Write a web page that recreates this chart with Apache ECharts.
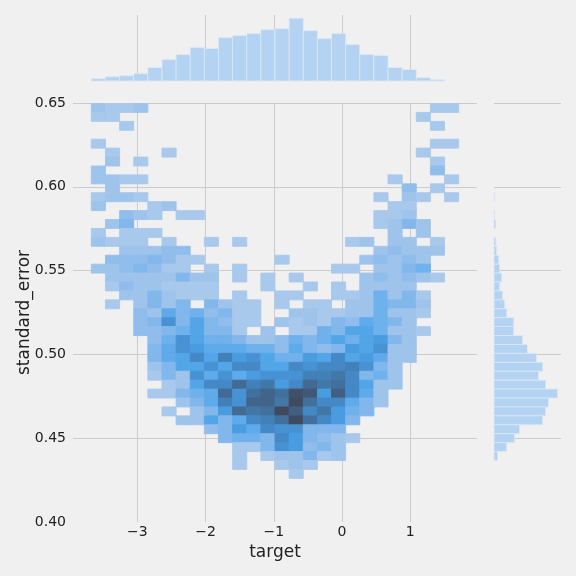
<!DOCTYPE html>
<html>
<head>
<meta charset="utf-8">
<script src="https://cdn.jsdelivr.net/npm/echarts/dist/echarts.min.js"></script>
<style>
    html, body { margin: 0; padding: 0; background: #f0f0f0; }
    #main { width: 576px; height: 576px; }
</style>
</head>
<body>
<div id="main"></div>
<script>
// target bins (x): 26 bins from the data min
var targetMin = -3.676;
var targetBinWidth = 0.2072;
// standard_error bins (y): counted downward from the data max
var seMax = 0.6497;
var seBinHeight = 0.005325;

// top marginal: count per target bin
var targetCounts = [9, 17, 21, 29, 54, 86, 106, 134, 130, 174, 182, 190, 206,
    210, 252, 202, 170, 190, 146, 106, 102, 54, 46, 13, 5, 0];

// right marginal: count per standard_error bin, top bin first
var seCounts = [0, 0, 0, 0, 0, 0, 0, 0, 0, 0, 3, 0, 3, 8, 0, 8, 12, 21, 25, 34,
    25, 39, 48, 57, 88, 88, 128, 150, 191, 218, 200, 231, 285, 244, 231, 218,
    115, 92, 57, 16, 0, 0];

// joint histogram: one row per standard_error bin (top first), one value per target bin
var jointCounts = [
    [2,1,1,2,0,0,0,0,0,0,0,0,0,0,0,0,0,0,0,0,0,0,0,0,1,1],
    [1,1,0,0,0,0,0,0,0,0,0,0,0,0,0,0,0,0,0,0,0,0,0,1,0,0],
    [0,0,1,0,0,0,0,0,0,0,0,0,0,0,0,0,0,0,0,0,0,0,0,0,1,0],
    [0,0,0,0,0,0,0,0,0,0,0,0,0,0,0,0,0,0,0,0,0,0,0,0,0,0],
    [1,0,0,0,0,0,0,0,0,0,0,0,0,0,0,0,0,0,0,0,0,0,0,0,1,1],
    [0,1,0,0,0,1,0,0,0,0,0,0,0,0,0,0,0,0,0,0,0,0,0,1,0,0],
    [0,2,0,1,0,0,0,0,0,0,0,0,0,0,0,0,0,0,0,0,0,0,0,0,1,0],
    [2,0,0,0,0,0,0,0,0,0,0,0,0,0,0,0,0,0,0,0,0,0,0,0,3,0],
    [2,2,1,1,0,0,0,0,0,0,0,0,0,0,0,0,0,0,0,0,0,1,0,0,0,1],
    [0,2,0,0,0,0,0,0,0,0,0,0,0,0,0,0,0,0,0,0,0,0,3,0,1,0],
    [1,2,2,1,0,0,0,0,0,0,0,0,0,0,0,0,0,0,0,0,1,0,2,1,0,1],
    [2,0,0,0,1,2,0,0,0,0,0,0,0,0,0,0,0,0,0,0,0,1,1,0,0,0],
    [0,0,3,2,1,0,1,1,0,0,0,0,0,0,0,0,0,0,0,0,1,1,2,0,0,0],
    [0,2,4,0,0,0,0,0,0,0,0,0,0,0,0,0,0,0,0,0,1,2,4,2,0,0],
    [1,0,1,1,1,0,0,0,0,0,0,0,0,0,0,0,0,0,0,0,0,2,0,2,0,0],
    [2,1,1,1,0,1,0,0,1,0,1,0,0,0,0,0,0,0,1,2,0,2,2,0,1,0],
    [0,0,2,2,2,3,3,0,0,0,0,0,0,0,0,0,0,0,0,0,2,3,2,2,2,0],
    [0,3,3,3,4,3,1,1,0,0,0,0,0,1,0,0,0,0,0,2,3,2,3,2,0,0],
    [2,2,3,4,3,1,1,0,1,0,1,0,0,0,0,0,0,1,1,0,2,2,4,5,0,0],
    [0,2,2,2,2,2,4,2,2,0,1,0,1,0,1,0,0,0,0,2,3,2,3,2,1,0],
    [0,1,3,2,2,1,1,1,1,0,0,0,1,0,0,1,0,1,0,2,2,2,2,0,0,0],
    [0,0,2,2,4,2,1,1,1,0,1,0,0,1,1,0,0,1,1,2,5,2,4,1,0,0],
    [0,1,0,2,4,2,4,0,4,2,1,1,0,1,0,1,1,0,2,2,5,4,4,2,0,0],
    [0,0,0,3,2,6,4,5,3,4,1,1,0,0,2,2,1,1,2,2,5,2,2,1,0,0],
    [0,0,0,3,4,9,4,7,4,3,1,1,0,2,1,2,1,4,3,6,5,4,2,0,0,0],
    [0,0,0,3,3,4,5,7,4,4,1,0,2,0,1,1,5,4,7,7,5,2,2,1,0,0],
    [0,0,0,0,3,5,9,7,5,5,4,2,2,3,5,4,5,7,5,7,8,4,2,0,0,0],
    [0,0,0,0,4,6,9,8,6,6,6,5,5,3,6,4,3,4,8,7,9,2,2,0,0,0],
    [0,0,0,0,4,6,7,10,7,11,8,9,7,5,5,8,7,10,7,8,6,2,2,0,0,0],
    [0,0,0,0,2,4,7,7,9,7,10,10,7,7,10,9,10,10,11,9,4,2,0,0,0,0],
    [0,0,0,0,1,4,2,9,6,9,6,8,9,9,9,11,11,12,10,4,5,2,0,0,0,0],
    [0,0,0,0,0,1,2,7,10,10,14,11,12,8,10,14,12,13,10,7,2,2,0,0,0,0],
    [0,0,0,0,1,1,4,5,6,14,9,13,15,13,18,17,8,16,10,6,2,0,0,0,0,0],
    [0,0,0,0,0,0,2,4,6,11,9,15,15,12,19,13,10,10,6,4,2,0,0,0,0,0],
    [0,0,0,0,0,1,0,2,4,8,14,12,13,19,16,10,12,8,5,4,0,0,0,0,0,0],
    [0,0,0,0,0,0,2,2,7,4,6,10,11,13,19,13,10,8,4,0,0,0,0,0,0,0],
    [0,0,0,0,0,0,0,0,3,4,8,6,10,9,9,4,4,4,0,0,0,0,0,0,0,0],
    [0,0,0,0,0,0,0,0,0,4,5,5,4,10,8,4,3,2,1,0,0,0,0,0,0,0],
    [0,0,0,0,0,0,0,0,0,0,1,1,4,9,8,3,4,2,0,0,0,0,0,0,0,0],
    [0,0,0,0,0,0,0,0,0,0,1,0,1,2,2,4,1,2,0,0,0,0,0,0,0,0],
    [0,0,0,0,0,0,0,0,0,0,1,0,0,1,2,1,0,0,0,0,0,0,0,0,0,0],
    [0,0,0,0,0,0,0,0,0,0,0,0,0,0,1,0,0,0,0,0,0,0,0,0,0,0]
];

// light-to-dark ramp of the joint histogram
var rampColors = ['#a8c8ec', '#9fc4ec', '#90bdec', '#82b7ec', '#6eb1ec', '#5eaaea',
    '#52a6e8', '#4a9ce0', '#4692d2', '#4488c6', '#4280b8', '#4278a8', '#42709c',
    '#426a92', '#42648a', '#425e80', '#425776', '#424f68', '#404a5e'];

var jointData = [];
jointCounts.forEach(function (row, r) {
    row.forEach(function (count, c) {
        if (!count) return;
        var x0 = targetMin + c * targetBinWidth;
        var y1 = seMax - r * seBinHeight;
        jointData.push([x0, x0 + targetBinWidth, y1 - seBinHeight, y1, count]);
    });
});

var topData = [];
targetCounts.forEach(function (count, c) {
    if (!count) return;
    var x0 = targetMin + c * targetBinWidth;
    topData.push([x0, x0 + targetBinWidth, count]);
});

var rightData = [];
seCounts.forEach(function (count, r) {
    if (!count) return;
    var y1 = seMax - r * seBinHeight;
    rightData.push([y1 - seBinHeight, y1, count]);
});

var font = 'DejaVu Sans';
var gridColor = '#cbcbcb';
var barFill = '#b4d2f2';
var barEdge = '#dce8f5';

function renderCell(params, api) {
    var p0 = api.coord([api.value(0), api.value(3)]);
    var p1 = api.coord([api.value(1), api.value(2)]);
    var color = api.visual('color');
    return {
        type: 'rect',
        shape: {x: p0[0], y: p0[1], width: p1[0] - p0[0], height: p1[1] - p0[1]},
        style: {fill: color, stroke: color, lineWidth: 0.9}
    };
}

function renderTopBar(params, api) {
    var p0 = api.coord([api.value(0), api.value(2)]);
    var p1 = api.coord([api.value(1), 0]);
    return {
        type: 'rect',
        shape: {x: p0[0], y: p0[1], width: p1[0] - p0[0], height: p1[1] - p0[1]},
        style: {fill: barFill, stroke: barEdge, lineWidth: 0.8}
    };
}

function renderRightBar(params, api) {
    var p0 = api.coord([0, api.value(1)]);
    var p1 = api.coord([api.value(2), api.value(0)]);
    return {
        type: 'rect',
        shape: {x: p0[0], y: p0[1], width: p1[0] - p0[0], height: p1[1] - p0[1]},
        style: {fill: barFill, stroke: barEdge, lineWidth: 0.8}
    };
}

var chart = echarts.init(document.getElementById('main'));

chart.setOption({
    animation: false,
    backgroundColor: '#f0f0f0',
    grid: [
        {left: 73, top: 103, width: 404, height: 419},
        {left: 73, top: 15, width: 404, height: 66},
        {left: 494, top: 103, width: 67, height: 419}
    ],
    xAxis: [
        {
            gridIndex: 0,
            type: 'value',
            min: -3.945,
            max: 1.98,
            name: 'target',
            nameLocation: 'middle',
            nameGap: 22,
            nameMoveOverlap: false,
            nameTextStyle: {color: '#222', fontSize: 17, fontFamily: font},
            axisLine: {show: false},
            axisTick: {show: false},
            axisLabel: {
                color: '#222',
                fontSize: 14,
                fontFamily: font,
                margin: 3,
                showMinLabel: false,
                showMaxLabel: false,
                formatter: function (v) { return String(v).replace('-', '\u2212'); }
            },
            splitLine: {show: true, showMinLine: false, showMaxLine: false,
                lineStyle: {color: gridColor, width: 1}}
        },
        {
            gridIndex: 1,
            type: 'value',
            min: -3.945,
            max: 1.98,
            axisLine: {show: false},
            axisTick: {show: false},
            axisLabel: {show: false},
            splitLine: {show: true, showMinLine: false, showMaxLine: false,
                lineStyle: {color: gridColor, width: 1}}
        },
        {
            gridIndex: 2,
            type: 'value',
            min: 0,
            max: 300,
            axisLine: {show: false},
            axisTick: {show: false},
            axisLabel: {show: false},
            splitLine: {show: false}
        }
    ],
    yAxis: [
        {
            gridIndex: 0,
            type: 'value',
            min: 0.40,
            max: 0.65,
            interval: 0.05,
            name: 'standard_error',
            nameLocation: 'middle',
            nameGap: 40,
            nameMoveOverlap: false,
            nameTextStyle: {color: '#222', fontSize: 17, fontFamily: font},
            axisLine: {show: false},
            axisTick: {show: false},
            axisLabel: {
                color: '#222',
                fontSize: 14,
                fontFamily: font,
                margin: 7,
                formatter: function (v) { return v.toFixed(2); }
            },
            splitLine: {show: true, showMinLine: false, lineStyle: {color: gridColor, width: 1}}
        },
        {
            gridIndex: 1,
            type: 'value',
            min: 0,
            max: 265,
            axisLine: {show: false},
            axisTick: {show: false},
            axisLabel: {show: false},
            splitLine: {show: false}
        },
        {
            gridIndex: 2,
            type: 'value',
            min: 0.40,
            max: 0.65,
            interval: 0.05,
            axisLine: {show: false},
            axisTick: {show: false},
            axisLabel: {show: false},
            splitLine: {show: true, showMinLine: false, lineStyle: {color: gridColor, width: 1}}
        }
    ],
    visualMap: {
        type: 'continuous',
        show: false,
        seriesIndex: 0,
        dimension: 4,
        min: 1,
        max: 19,
        inRange: {color: rampColors}
    },
    series: [
        {
            type: 'custom',
            xAxisIndex: 0,
            yAxisIndex: 0,
            renderItem: renderCell,
            encode: {x: [0, 1], y: [2, 3]},
            data: jointData
        },
        {
            type: 'custom',
            xAxisIndex: 1,
            yAxisIndex: 1,
            renderItem: renderTopBar,
            encode: {x: [0, 1], y: 2},
            data: topData
        },
        {
            type: 'custom',
            xAxisIndex: 2,
            yAxisIndex: 2,
            renderItem: renderRightBar,
            encode: {x: 2, y: [0, 1]},
            data: rightData
        }
    ]
});
</script>
</body>
</html>
